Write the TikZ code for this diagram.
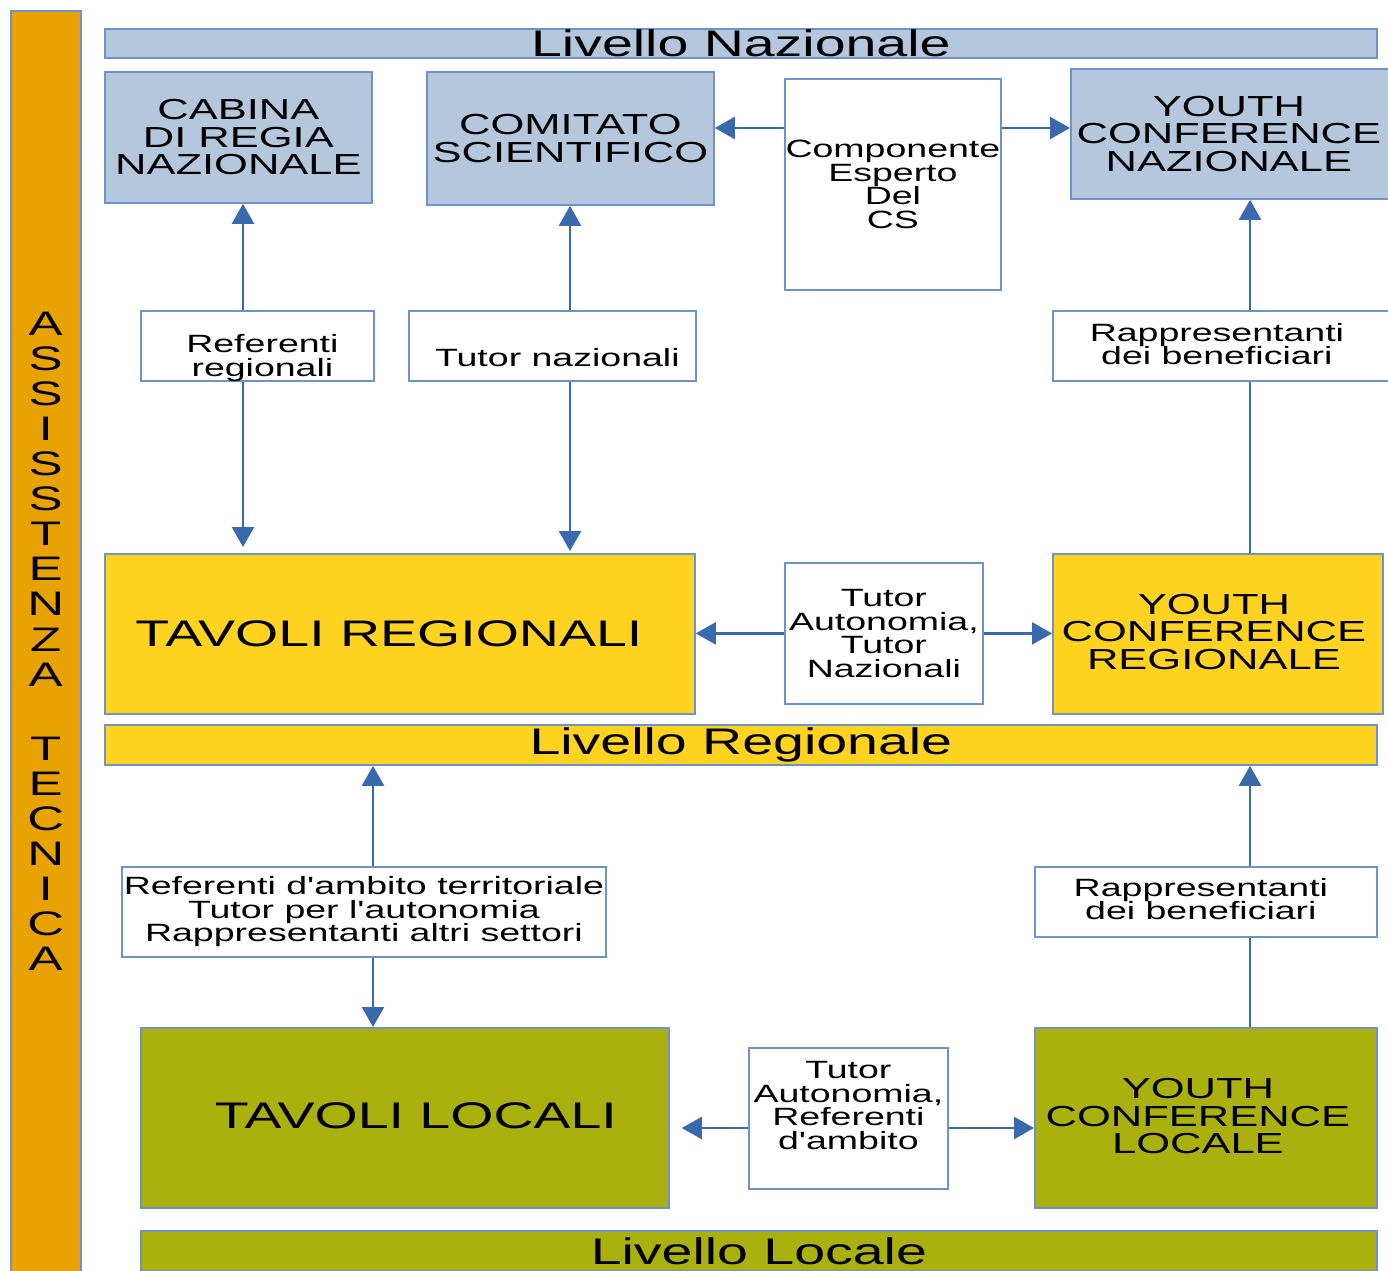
\documentclass[tikz,border=0pt]{standalone}
\usepackage{fontspec}
\setmainfont{Liberation Sans}
\newfontfamily\wf[FakeStretch=1.5]{Liberation Sans}
\usetikzlibrary{arrows.meta}
\definecolor{cBlue}{HTML}{B4C7DC}
\definecolor{cYel}{HTML}{FFD320}
\definecolor{cOliv}{HTML}{AAB10F}
\definecolor{cOrng}{HTML}{E8A202}
\definecolor{cLine}{HTML}{6E93C8}
\definecolor{cArrow}{HTML}{3A6AAE}
\newcommand{\fLvl}{\wf\fontsize{37}{40}\selectfont}
\newcommand{\fTit}{\wf\fontsize{29}{27.5}\selectfont}
\newcommand{\fBig}{\wf\fontsize{37}{40}\selectfont}
\newcommand{\fSm}{\wf\fontsize{25}{23.5}\selectfont}
\newcommand{\fVert}{\wf\fontsize{34}{35.1}\selectfont}
% shift a (multi-line) centred text inside its box: #1 horizontal (twice the shift), #2 vertical
\newcommand{\shiftT}[3]{\hspace*{#1}\raisebox{#2}[\height][\depth]{\vbox{\def\\{\cr}\halign{\hfil##\hfil\cr#3\crcr}}}}
\begin{document}
\begin{tikzpicture}[x=1pt,y=-1pt,
  box/.style={draw=cLine, line width=1.8pt, inner sep=0pt, align=center, anchor=north west},
  bluebox/.style={box, fill=cBlue, font=\fTit},
  yelbox/.style={box, fill=cYel},
  olbox/.style={box, fill=cOliv},
  wbox/.style={box, fill=white, font=\fSm},
  lvlbar/.style={box, font=\fLvl},
  conn/.style={draw=cArrow, line width=2.5pt},
  arr/.style={conn, -{Triangle[length=20pt,width=22pt]}}
]
\useasboundingbox (0,0) rectangle (1388,1270);
\clip (0,0) rectangle (1388,1270);
\fill[white] (0,0) rectangle (1388,1270);

% side bar
\node[box, fill=cOrng, line width=1.5pt, minimum width=70pt, minimum height=1275pt, font=\fVert] (assist) at (10,10)
  {\shiftT{0pt}{7pt}{A\\S\\S\\I\\S\\S\\T\\E\\N\\Z\\A\cr\noalign{\vskip39pt}T\\E\\C\\N\\I\\C\\A}};

% level bars
\node[lvlbar, fill=cBlue, minimum width=1272pt, minimum height=29pt] (natbar) at (104,28) {Livello Nazionale};
\node[lvlbar, fill=cYel, minimum width=1272pt, minimum height=40pt] (regbar) at (104,724) {Livello Regionale};
\node[lvlbar, fill=cOliv, minimum width=1236pt, minimum height=40pt] (locbar) at (140,1230) {Livello Locale};

% national level
\node[bluebox, minimum width=267pt, minimum height=131pt] (cabina) at (104,71) {CABINA\\DI REGIA\\NAZIONALE};
\node[bluebox, minimum width=287pt, minimum height=133pt] (comitato) at (426,71) {COMITATO\\SCIENTIFICO};
\node[wbox, minimum width=216pt, minimum height=211pt] (comp) at (784,78) {Componente\\Esperto\\Del\\CS};
\node[bluebox, minimum width=322pt, minimum height=130pt] (ycn) at (1070,68) {\shiftT{-6pt}{0pt}{YOUTH\\CONFERENCE\\NAZIONALE}};

% label boxes
\node[wbox, minimum width=233pt, minimum height=70pt] (refreg) at (140,310) {\shiftT{10pt}{-12pt}{Referenti\\regionali}};
\node[wbox, minimum width=287pt, minimum height=70pt] (tutnaz) at (408,310) {\shiftT{10pt}{-12pt}{Tutor nazionali}};
\node[wbox, minimum width=340pt, minimum height=70pt] (rapp1) at (1052,310) {\shiftT{-12pt}{2pt}{Rappresentanti\\dei beneficiari}};

% regional level
\node[yelbox, font=\fBig, minimum width=590pt, minimum height=160pt] (tavreg) at (104,553) {\shiftT{-22pt}{0pt}{TAVOLI REGIONALI}};
\node[wbox, minimum width=198pt, minimum height=141pt] (tutaut) at (784,562) {Tutor\\Autonomia,\\Tutor\\Nazionali};
\node[yelbox, font=\fTit, minimum width=330pt, minimum height=160pt] (ycr) at (1052,553) {\shiftT{-8pt}{2pt}{YOUTH\\CONFERENCE\\REGIONALE}};

\node[wbox, minimum width=484pt, minimum height=90pt] (refamb) at (121,866) {Referenti d'ambito territoriale\\Tutor per l'autonomia\\Rappresentanti altri settori};
\node[wbox, minimum width=342pt, minimum height=70pt] (rapp2) at (1034,866) {\shiftT{-10pt}{3pt}{Rappresentanti\\dei beneficiari}};

% local level
\node[olbox, font=\fBig, minimum width=528pt, minimum height=180pt] (tavloc) at (140,1027) {\shiftT{22pt}{2pt}{TAVOLI LOCALI}};
\node[wbox, minimum width=199pt, minimum height=141pt] (tutref) at (748,1047) {\shiftT{0pt}{13pt}{Tutor\\Autonomia,\\Referenti\\d'ambito}};
\node[olbox, font=\fTit, minimum width=342pt, minimum height=180pt] (ycl) at (1034,1027) {\shiftT{-16pt}{1.5pt}{YOUTH\\CONFERENCE\\LOCALE}};

% helper coordinates
\coordinate (xa) at (243,0);
\coordinate (xb) at (570,0);
\coordinate (xc) at (1250,0);
\coordinate (xd) at (373,0);
\coordinate (ya) at (0,128);
\coordinate (yb) at (0,1128);

% connectors
\draw[arr] (refreg.north -| xa) -- (cabina.south -| xa);
\draw[arr, shorten >=6pt] (refreg.south -| xa) -- (tavreg.north -| xa);
\draw[arr] (tutnaz.north -| xb) -- (comitato.south -| xb);
\draw[arr, shorten >=2pt] (tutnaz.south -| xb) -- (tavreg.north -| xb);
\draw[arr] (rapp1.north -| xc) -- (ycn.south -| xc);
\draw[conn] (ycr.north -| xc) -- (rapp1.south -| xc);

\draw[arr] (comp.west |- ya) -- (comitato.east |- ya);
\draw[arr] (comp.east |- ya) -- (ycn.west |- ya);

\draw[arr] (tutaut.west) -- (tavreg.east |- tutaut.west);
\draw[arr] (tutaut.east) -- (ycr.west |- tutaut.east);

\draw[arr] (refamb.north -| xd) -- (regbar.south -| xd);
\draw[arr] (refamb.south -| xd) -- (tavloc.north -| xd);
\draw[arr] (rapp2.north -| xc) -- (regbar.south -| xc);
\draw[conn] (ycl.north -| xc) -- (rapp2.south -| xc);

\draw[arr, shorten >=12pt] (tutref.west |- yb) -- (tavloc.east |- yb);
\draw[arr] (tutref.east |- yb) -- (ycl.west |- yb);
\end{tikzpicture}
\end{document}
